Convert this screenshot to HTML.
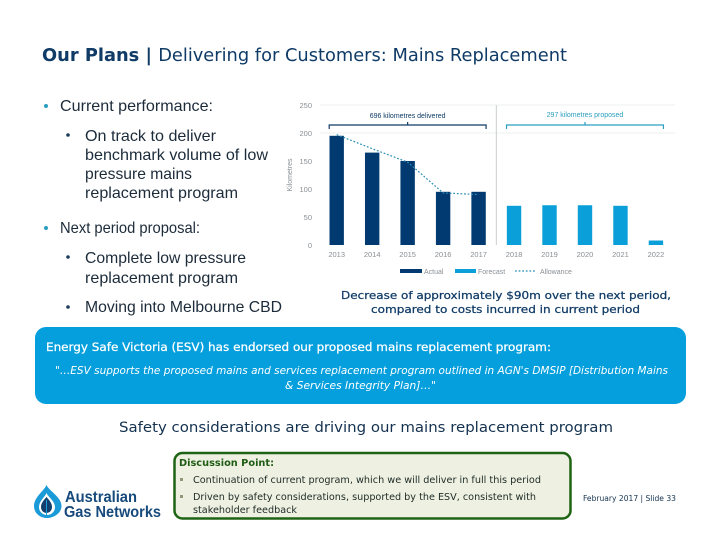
<!DOCTYPE html>
<html lang="en">
<head>
<meta charset="utf-8">
<title>Delivering for Customers: Mains Replacement</title>
<style>
html,body{margin:0;padding:0;width:720px;height:540px;background:#fff;overflow:hidden}
svg{display:block}
text{font-family:"Liberation Sans",sans-serif}
.dv{font-family:"DejaVu Sans",sans-serif}
.body{font-size:16px;fill:#1c2b3a}
</style>
</head>
<body>
<svg id="slide" width="720" height="540" viewBox="0 0 720 540" xmlns="http://www.w3.org/2000/svg">
<rect width="720" height="540" fill="#ffffff"/>

<text class="dv" x="42" y="61" font-size="18" fill="#0f3b66" textLength="525" lengthAdjust="spacingAndGlyphs"><tspan font-weight="700">Our Plans | </tspan>Delivering for Customers: Mains Replacement</text>

<circle cx="46" cy="106" r="2" fill="#2a9fc0"/>
<text class="body" x="60" y="111" textLength="153" lengthAdjust="spacingAndGlyphs">Current performance:</text>
<circle cx="68" cy="135" r="1.8" fill="#1c3b5a"/>
<text class="body" x="85" y="141" textLength="131" lengthAdjust="spacingAndGlyphs">On track to deliver</text>
<text class="body" x="85" y="160" textLength="183" lengthAdjust="spacingAndGlyphs">benchmark volume of low</text>
<text class="body" x="85" y="179" textLength="107" lengthAdjust="spacingAndGlyphs">pressure mains</text>
<text class="body" x="85" y="198" textLength="153" lengthAdjust="spacingAndGlyphs">replacement program</text>
<circle cx="46" cy="228" r="2" fill="#2a9fc0"/>
<text class="body" x="60" y="233" textLength="140" lengthAdjust="spacingAndGlyphs">Next period proposal:</text>
<circle cx="68" cy="257" r="1.8" fill="#1c3b5a"/>
<text class="body" x="85" y="263" textLength="161" lengthAdjust="spacingAndGlyphs">Complete low pressure</text>
<text class="body" x="85" y="283" textLength="153" lengthAdjust="spacingAndGlyphs">replacement program</text>
<circle cx="68" cy="307" r="1.8" fill="#1c3b5a"/>
<text class="body" x="85" y="312" textLength="197" lengthAdjust="spacingAndGlyphs">Moving into Melbourne CBD</text>

<g id="chart"></g>

<text class="dv" x="341" y="299" font-size="11" fill="#0f3b66" stroke="#0f3b66" stroke-width="0.25" textLength="330" lengthAdjust="spacingAndGlyphs">Decrease of approximately $90m over the next period,</text>
<text class="dv" x="371" y="313" font-size="11" fill="#0f3b66" stroke="#0f3b66" stroke-width="0.25" textLength="269" lengthAdjust="spacingAndGlyphs">compared to costs incurred in current period</text>

<rect x="35" y="327" width="651" height="77" rx="11" fill="#049fdc"/>
<text class="dv" x="46" y="351" font-size="11.5" fill="#ffffff" stroke="#ffffff" stroke-width="0.25" textLength="505" lengthAdjust="spacingAndGlyphs">Energy Safe Victoria (ESV) has endorsed our proposed mains replacement program:</text>
<text class="dv" x="55" y="374" font-size="11" font-style="italic" fill="#ffffff" textLength="613" lengthAdjust="spacingAndGlyphs">"…ESV supports the proposed mains and services replacement program outlined in AGN's DMSIP [Distribution Mains</text>
<text class="dv" x="285" y="389" font-size="11" font-style="italic" fill="#ffffff" textLength="151" lengthAdjust="spacingAndGlyphs">&amp; Services Integrity Plan]…"</text>

<text class="dv" x="119" y="432" font-size="14" fill="#14324f" textLength="494" lengthAdjust="spacingAndGlyphs">Safety considerations are driving our mains replacement program</text>

<g>
<path d="M46.5 485C49 491 61.5 497 61.5 506C61.5 513 54 518 47 518C40 518 34 513 34 506C34 497 44 491 46.5 485Z" fill="#1a9bd7"/>
<path d="M46.5 493C48 497 55 501 55 507C55 512 51 515 47 515C43 515 39 512 39 507C39 501 45 497 46.5 493Z" fill="#ffffff"/>
<path d="M46.5 497C49 500 52 503 52 507C52 511 49 513 46.5 513C44 513 41 511 41 507C41 503 44 500 46.5 497Z" fill="#123f6d"/>
<line x1="46.5" y1="500" x2="46.5" y2="518" stroke="#1a9bd7" stroke-width="1"/>
<text x="65" y="502" font-size="16" font-weight="700" fill="#174a7c" textLength="72" lengthAdjust="spacingAndGlyphs">Australian</text>
<text x="64" y="517" font-size="16" font-weight="700" fill="#174a7c" textLength="97" lengthAdjust="spacingAndGlyphs">Gas Networks</text>
</g>

<rect x="174.5" y="453" width="396" height="65.5" rx="8" fill="#eef0e2" stroke="#1f6314" stroke-width="2.5"/>
<text class="dv" x="179" y="466" font-size="10" font-weight="700" fill="#1f5c14" textLength="95" lengthAdjust="spacingAndGlyphs">Discussion Point:</text>
<rect x="180" y="478" width="3" height="3" fill="#8f9a78"/>
<text class="dv" x="193" y="483" font-size="10" fill="#1d2b26" textLength="348" lengthAdjust="spacingAndGlyphs">Continuation of current program, which we will deliver in full this period</text>
<rect x="180" y="495" width="3" height="3" fill="#8f9a78"/>
<text class="dv" x="193" y="500" font-size="10" fill="#1d2b26" textLength="343" lengthAdjust="spacingAndGlyphs">Driven by safety considerations, supported by the ESV, consistent with</text>
<text class="dv" x="193" y="513" font-size="10" fill="#1d2b26" textLength="104" lengthAdjust="spacingAndGlyphs">stakeholder feedback</text>

<text class="dv" x="583" y="501" font-size="8" fill="#14324f" textLength="93" lengthAdjust="spacingAndGlyphs">February 2017 | Slide 33</text>
</svg>

<script>
const categories = ['2013','2014','2015','2016','2017','2018','2019','2020','2021','2022'];
const actualValues = [195,165,150,95,95,null,null,null,null,null];
const forecastValues = [null,null,null,null,null,70,71,71,70,8];
const allowanceValues = [197,172,148,93,90,null,null,null,null,null];
const yTicks = [0,50,100,150,200,250];
const gridTicks = [200,250];
const deliveredLabel = '696 kilometres delivered';
const proposedLabel = '297 kilometres proposed';

const NS = 'http://www.w3.org/2000/svg';
const chart = document.getElementById('chart');
const x0 = 336.7, xStep = 35.47, y0 = 245, yPerUnit = 0.56, barW = 14.4;
function xAt(i){ return x0 + xStep * i; }
function yAt(v){ return y0 - v * yPerUnit; }
function make(tag, attrs, txt){
  const el = document.createElementNS(NS, tag);
  for (const k in attrs) el.setAttribute(k, attrs[k]);
  if (txt !== undefined) el.textContent = txt;
  chart.appendChild(el);
  return el;
}
const TICK = '#8a8f94';

gridTicks.forEach(function(t){
  const el = make('line',{x1:320,x2:675,y1:yAt(t),y2:yAt(t),stroke:'#eef0f2','stroke-width':1});
  
  
});
yTicks.forEach(function(t){
  const el = make('text',{x:312,y:yAt(t)+3,'font-size':7.5,'text-anchor':'end',fill:TICK},String(t));
  
  
});
const yTitle = make('text',{x:0,y:0,'font-size':7,'text-anchor':'middle',fill:TICK,transform:'translate(292,'+yAt(125)+') rotate(-90)'},'Kilometres');



const sepX = (xAt(4)+xAt(5))/2;
const divider = make('line',{x1:sepX,x2:sepX,y1:yAt(250),y2:y0,stroke:'#c9cdd0','stroke-width':1});



categories.forEach(function(c,i){
  const el = make('text',{x:xAt(i),y:257,'font-size':7.5,'text-anchor':'middle',fill:TICK},c);
  
  
});
actualValues.forEach(function(v,i){
  if (v === null) return;
  const el = make('rect',{x:xAt(i)-barW/2,y:yAt(v),width:barW,height:y0-yAt(v),fill:'#003a70'});
  
  
});
forecastValues.forEach(function(v,i){
  if (v === null) return;
  const el = make('rect',{x:xAt(i)-barW/2,y:yAt(v),width:barW,height:y0-yAt(v),fill:'#0a9fd8'});
  
  
});
const allowPts = [];
allowanceValues.forEach(function(v,i){
  if (v !== null) allowPts.push(xAt(i)+','+yAt(v));
});
const allowLine = make('polyline',{points:allowPts.join(' '),fill:'none',stroke:'#2a8fb5','stroke-width':1.2,'stroke-dasharray':'1.8 1.8'});



function bracket(i1,i2,color){
  const a = xAt(i1)-7.5, b = xAt(i2)+7.5, m = (a+b)/2;
  return make('path',{d:'M'+a+' 129V125H'+b+'V129M'+m+' 125V122',fill:'none',stroke:color,'stroke-width':1.2});
}
const br1 = bracket(0,4,'#0f3b66');


const br2 = bracket(5,9,'#2a9fc0');


const lb1 = make('text',{x:(xAt(0)+xAt(4))/2,y:118,'font-size':7,'text-anchor':'middle',fill:'#0f3b66'},deliveredLabel);


const lb2 = make('text',{x:(xAt(5)+xAt(9))/2,y:117,'font-size':7,'text-anchor':'middle',fill:'#2a9fc0'},proposedLabel);



const sw1 = make('rect',{x:400,y:269,width:22,height:4,fill:'#003a70'});


const lt1 = make('text',{x:424,y:274,'font-size':7,fill:TICK},'Actual');


const sw2 = make('rect',{x:455,y:269,width:21,height:4,fill:'#0a9fd8'});


const lt2 = make('text',{x:478,y:274,'font-size':7,fill:TICK},'Forecast');


const sw3 = make('line',{x1:515,x2:536,y1:271,y2:271,stroke:'#2a8fb5','stroke-width':1.2,'stroke-dasharray':'1.8 1.8'});


const lt3 = make('text',{x:540,y:274,'font-size':7,fill:TICK},'Allowance');


</script>
</body>
</html>
